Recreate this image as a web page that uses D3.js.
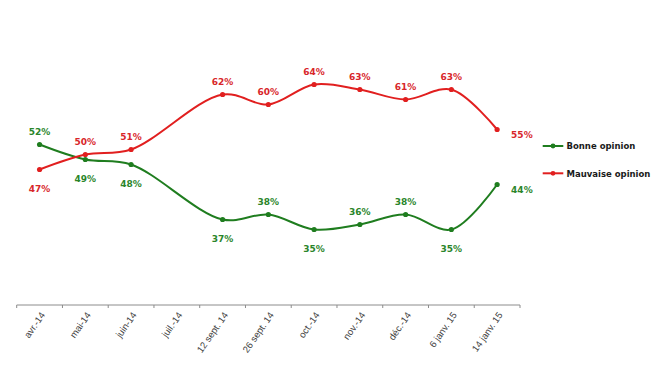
<!DOCTYPE html>
<html>
<head>
<meta charset="utf-8">
<script src="https://cdn.jsdelivr.net/npm/d3@7"></script>
<style>
  body { margin: 0; background: #fff; }
  svg { display: block; }
</style>
</head>
<body>
<svg id="chart" width="660" height="366"></svg>
<script>
// Catégories (mois / vagues de sondage)
const categories = ["avr.-14", "mai-14", "juin-14", "juil.-14", "12 sept. 14", "26 sept. 14",
    "oct.-14", "nov.-14", "déc.-14", "6 janv. 15", "14 janv. 15"];

// Valeurs des séries (null = pas de mesure)
const bonneOpinion = [52, 49, 48, null, 37, 38, 35, 36, 38, 35, 44];
const mauvaiseOpinion = [47, 50, 51, null, 62, 60, 64, 63, 61, 63, 55];

// Placement des étiquettes : a = dessus, b = dessous, r = à droite
const placeBonne = ["a", "b", "b", null, "b", "a", "b", "a", "a", "b", "r"];
const placeMauvaise = ["b", "a", "a", null, "a", "a", "a", "a", "a", "a", "r"];

const series = [
    { name: "Bonne opinion", values: bonneOpinion, place: placeBonne, color: "#1f7d1f", text: "#2a852a" },
    { name: "Mauvaise opinion", values: mauvaiseOpinion, place: placeMauvaise, color: "#e11f1f", text: "#d8262a" }
];

const svg = d3.select("#chart");

// Échelles
const x = d3.scaleBand().domain(categories).range([16.7, 520]);
const y = d3.scaleLinear().domain([20, 80]).range([304.5, 4.5]);

// Axe des abscisses
const axis = svg.append("g").attr("transform", "translate(0,305)");
axis.append("line")
    .attr("x1", x.range()[0]).attr("x2", x.range()[1])
    .attr("stroke", "#8c8c8c");
const tickPos = categories.map(c => x(c)).concat([x.range()[1]]);
axis.selectAll("line.tick")
    .data(tickPos)
    .enter()
    .append("line")
    .attr("class", "tick")
    .attr("x1", d => d).attr("x2", d => d)
    .attr("y1", 0).attr("y2", 3)
    .attr("stroke", "#8c8c8c");
axis.selectAll("text")
    .data(categories)
    .enter()
    .append("text")
    .attr("transform", d => `translate(${x(d) + x.bandwidth() / 2 + 6},${10}) rotate(-55)`)
    .attr("text-anchor", "end")
    .attr("font-family", "Liberation Sans, Arial, sans-serif")
    .attr("font-size", 9.5)
    .attr("fill", "#404040")
    .text(d => d);

// Courbes lissées
const line = d3.line()
    .defined(d => d.v !== null)
    .x(d => x(d.c) + x.bandwidth() / 2)
    .y(d => y(d.v))
    .curve(d3.curveCatmullRom.alpha(0.5));

series.forEach(s => {
    const pts = categories.map((c, i) => ({ c: c, v: s.values[i], p: s.place[i] }))
        .filter(d => d.v !== null);
    const g = svg.append("g");

    g.append("path")
        .datum(pts)
        .attr("d", line)
        .attr("fill", "none")
        .attr("stroke", s.color)
        .attr("stroke-width", 2);

    g.selectAll("circle")
        .data(pts)
        .enter()
        .append("circle")
        .attr("cx", d => x(d.c) + x.bandwidth() / 2)
        .attr("cy", d => y(d.v))
        .attr("r", 2.6)
        .attr("fill", s.color);

    g.selectAll("text")
        .data(pts)
        .enter()
        .append("text")
        .attr("x", d => x(d.c) + x.bandwidth() / 2 + (d.p === "r" ? 14 : 0))
        .attr("y", d => y(d.v) + (d.p === "a" ? -10 : d.p === "b" ? 22 : 8))
        .attr("text-anchor", d => d.p === "r" ? "start" : "middle")
        .attr("font-family", "DejaVu Sans, Verdana, sans-serif")
        .attr("font-weight", "bold")
        .attr("font-size", 9)
        .attr("fill", s.text)
        .text(d => d.v + "%");
});

// Légende
const legend = svg.append("g");
series.forEach((s, i) => {
    const ly = 146 + i * 27.3;
    legend.append("line")
        .attr("x1", 542.7).attr("x2", 563.3)
        .attr("y1", ly).attr("y2", ly)
        .attr("stroke", s.color)
        .attr("stroke-width", 2);
    legend.append("circle")
        .attr("cx", 553).attr("cy", ly).attr("r", 2.4)
        .attr("fill", s.color);
    legend.append("text")
        .attr("x", 566.5).attr("y", ly + 3.3)
        .attr("font-family", "DejaVu Sans, Verdana, sans-serif")
        .attr("font-weight", "bold")
        .attr("font-size", 8.5)
        .attr("fill", "#1a1a1a")
        .text(s.name);
});
</script>
</body>
</html>
